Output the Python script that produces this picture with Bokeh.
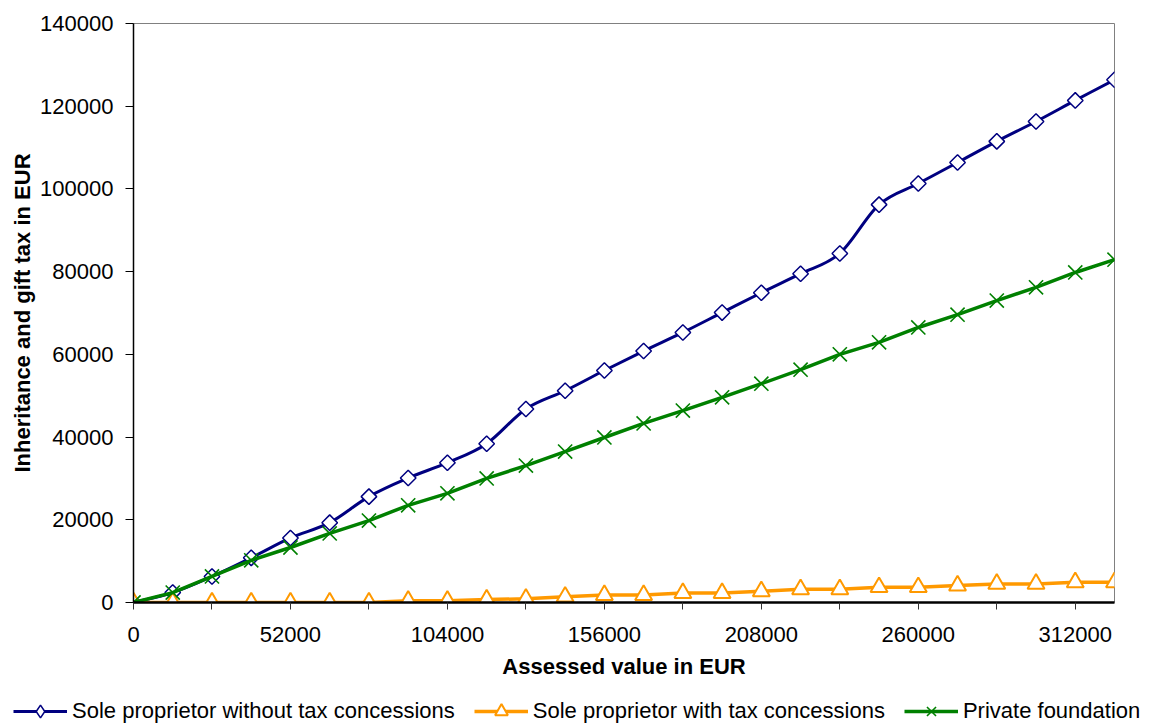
import numpy as np
from bokeh.plotting import figure
from bokeh.layouts import column
from bokeh.models import Range1d, FixedTicker, Legend, LegendItem, BasicTickFormatter
from bokeh.embed import file_html
from bokeh.resources import INLINE

# ---- data ----
assessed = [0, 13000, 26000, 39000, 52000, 65000, 78000, 91000, 104000, 117000,
            130000, 143000, 156000, 169000, 182000, 195000, 208000, 221000, 234000,
            247000, 260000, 273000, 286000, 299000, 312000, 325000]

without_concessions = [0, 2400, 6300, 10800, 15600, 19300, 25600, 30100, 33800, 38400,
                       46800, 51200, 56100, 60800, 65300, 70100, 74900, 79500, 84400,
                       96200, 101300, 106400, 111500, 116300, 121400, 126400]

with_concessions = [0, 0, 0, 0, 0, 0, 0, 400, 400, 700,
                    900, 1400, 1800, 1800, 2300, 2300, 2700, 3200, 3200,
                    3700, 3700, 4100, 4500, 4500, 4900, 4900]

private_foundation = [0, 2400, 6300, 10200, 13300, 16700, 19800, 23500, 26400, 30000,
                      33100, 36500, 39900, 43300, 46400, 49600, 52900, 56300, 60000,
                      62900, 66500, 69600, 73000, 76200, 79800, 82900]

series_labels = ["Sole proprietor without tax concessions",
                 "Sole proprietor with tax concessions",
                 "Private foundation"]

x_major_ticks = [0, 52000, 104000, 156000, 208000, 260000, 312000]
x_minor_ticks = [26000, 78000, 130000, 182000, 234000, 286000]
y_ticks = [0, 20000, 40000, 60000, 80000, 100000, 120000, 140000]

FONT = "Liberation Sans"
NAVY = "#000080"
ORANGE = "#FF9900"
GREEN = "#008000"

# marker / line styles per series
blue_line_kw = dict(line_color=NAVY, line_width=3)
blue_pt_kw = dict(marker="square", angle=np.pi / 4, size=11, line_color=NAVY,
                  fill_color="white", line_width=1.5)
blue_key_kw = dict(marker="diamond", size=11, line_color=NAVY,
                   fill_color="white", line_width=1.5)
orange_line_kw = dict(line_color=ORANGE, line_width=3.5)
orange_pt_kw = dict(marker="triangle", size=17, line_color=ORANGE,
                    fill_color="white", line_width=2)
green_line_kw = dict(line_color=GREEN, line_width=3.5)
green_pt_kw = dict(marker="x", size=20, line_color=GREEN, line_width=1.6)

p = figure(width=1150, height=685, output_backend="svg", toolbar_location=None,
           x_range=Range1d(0, 325000), y_range=Range1d(0, 140000),
           min_border_left=133, min_border_right=36, min_border_top=23,
           min_border_bottom=83)
p.grid.visible = False
p.outline_line_color = "#808080"
p.outline_line_width = 1
p.background_fill_color = "white"
p.border_fill_color = "white"

# smoothed navy line (Bezier segments through the data points)
xs = np.array(assessed, dtype=float)
ys = np.array(without_concessions, dtype=float)
xp = np.concatenate([[xs[0]], xs, [xs[-1]]])
yp = np.concatenate([[ys[0]], ys, [ys[-1]]])
cx0 = xp[1:-2] + (xp[2:-1] - xp[0:-3]) / 6.0
cy0 = yp[1:-2] + (yp[2:-1] - yp[0:-3]) / 6.0
cx1 = xp[2:-1] - (xp[3:] - xp[1:-2]) / 6.0
cy1 = yp[2:-1] - (yp[3:] - yp[1:-2]) / 6.0
p.bezier(x0=xs[:-1], y0=ys[:-1], x1=xs[1:], y1=ys[1:],
         cx0=cx0, cy0=cy0, cx1=cx1, cy1=cy1, **blue_line_kw)
p.scatter(assessed, without_concessions, **blue_pt_kw)

p.line(assessed, with_concessions, **orange_line_kw)
p.scatter(assessed, with_concessions, **orange_pt_kw)

p.line(assessed, private_foundation, **green_line_kw)
p.scatter(assessed, private_foundation, **green_pt_kw)

# axes
xa = p.xaxis[0]
xa.ticker = FixedTicker(ticks=x_major_ticks, minor_ticks=x_minor_ticks)
xa.formatter = BasicTickFormatter(use_scientific=False)
xa.axis_line_color = "black"
xa.axis_line_width = 2.5
xa.major_tick_out = 7
xa.major_tick_in = 0
xa.minor_tick_out = 7
xa.minor_tick_in = 0
xa.major_tick_line_color = "#333333"
xa.minor_tick_line_color = "#333333"
xa.major_label_text_font = FONT
xa.major_label_text_font_size = "22px"
xa.major_label_text_color = "black"
xa.major_label_standoff = 17
xa.axis_label = "Assessed value in EUR"
xa.axis_label_text_font = FONT
xa.axis_label_text_font_size = "22px"
xa.axis_label_text_font_style = "bold"
xa.axis_label_text_color = "black"
xa.axis_label_standoff = 9

ya = p.yaxis[0]
ya.ticker = FixedTicker(ticks=y_ticks, minor_ticks=[])
ya.formatter = BasicTickFormatter(use_scientific=False)
ya.axis_line_color = "black"
ya.axis_line_width = 1.5
ya.major_tick_out = 8
ya.major_tick_in = 0
ya.minor_tick_out = 0
ya.minor_tick_in = 0
ya.major_label_text_font = FONT
ya.major_label_text_font_size = "22px"
ya.major_label_text_color = "black"
ya.major_label_standoff = 12
ya.axis_label = "Inheritance and gift tax in EUR"
ya.axis_label_text_font = FONT
ya.axis_label_text_font_size = "22px"
ya.axis_label_text_font_style = "bold"
ya.axis_label_text_color = "black"
ya.axis_label_standoff = 2

# legend strip below the chart (its own frame spans the full width)
lg = figure(width=1150, height=40, output_backend="svg", toolbar_location=None,
            x_range=Range1d(-2, -1), y_range=Range1d(-2, -1),
            x_axis_location=None, y_axis_location=None, min_border=0,
            frame_align=False)
lg.grid.visible = False
lg.outline_line_color = None
# the series are drawn here only to feed the legend keys (outside the visible range)
r1l = lg.line(assessed, without_concessions, **blue_line_kw)
r1p = lg.scatter(assessed, without_concessions, **blue_key_kw)
r2l = lg.line(assessed, with_concessions, **orange_line_kw)
r2p = lg.scatter(assessed, with_concessions, **orange_pt_kw)
r3l = lg.line(assessed, private_foundation, **green_line_kw)
r3p = lg.scatter(assessed, private_foundation, **green_pt_kw)

legend = Legend(items=[
    LegendItem(label=series_labels[0], renderers=[r1l, r1p]),
    LegendItem(label=series_labels[1], renderers=[r2l, r2p]),
    LegendItem(label=series_labels[2], renderers=[r3l, r3p]),
], orientation="horizontal", location=(13, -2))
legend.padding = 0
legend.margin = 0
legend.spacing = 19
legend.label_standoff = 5
legend.glyph_width = 54
legend.glyph_height = 32
legend.label_text_font = FONT
legend.label_text_font_size = "22px"
legend.label_text_color = "black"
legend.border_line_color = None
legend.background_fill_alpha = 0
lg.add_layout(legend, "center")

layout = column(p, lg, spacing=0)
open("out.html", "w").write(file_html(layout, INLINE))
